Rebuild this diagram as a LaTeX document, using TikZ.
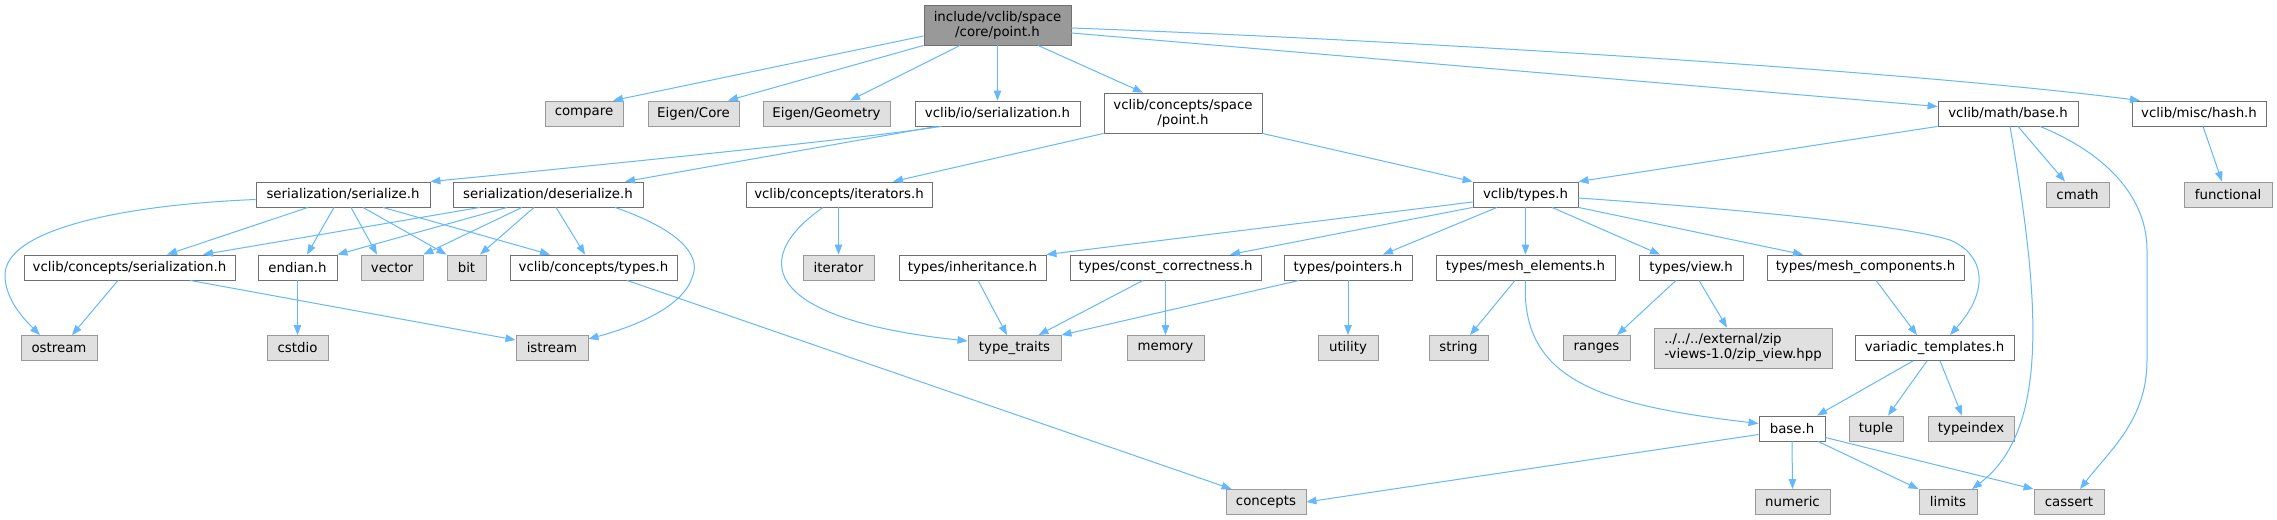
\documentclass[tikz,border=0pt]{standalone}
\usepackage{fontspec}
\setmainfont{DejaVu Sans}
\usetikzlibrary{arrows.meta,calc}
\definecolor{edgeblue}{HTML}{63B8FF}
\definecolor{wborder}{HTML}{707070}
\definecolor{gborder}{HTML}{999999}
\definecolor{gfill}{HTML}{E0E0E0}
\definecolor{rootfill}{HTML}{999999}
\begin{document}
\begin{tikzpicture}[x=0.75pt,y=-0.75pt,
 box/.style={draw, line width=0.65pt, inner sep=0pt, minimum height=18.75pt, font=\fontsize{10}{11.25}\selectfont, align=center, text=black},
 wn/.style={box, draw=wborder, fill=white},
 gn/.style={box, draw=gborder, fill=gfill},
 rn/.style={box, draw=wborder, fill=rootfill, minimum height=30pt},
 tall/.style={minimum height=30pt},
 nw/.style={minimum width=#1*0.75pt},
 ed/.style={draw=edgeblue, line width=0.75pt, -{Triangle[length=7.5pt,width=5.6pt]}}
]
\fill[white] (0,0) rectangle (2277,520);
\useasboundingbox (0,0) rectangle (2277,520);

% row 0
\node[rn, nw=147] (pt) at (997.5,25) {include/vclib/space\\/core/point.h};
% row 1
\node[gn, nw=78] (cmp) at (584,113.5) {compare};
\node[gn, nw=91] (ecore) at (693.5,113.5) {Eigen/Core};
\node[gn, nw=127] (egeo) at (826.5,113.5) {Eigen/Geometry};
\node[wn, nw=165] (ioser) at (997.5,113.5) {vclib/io/serialization.h};
\node[wn, nw=158, tall] (cpt) at (1183,113) {vclib/concepts/space\\/point.h};
\node[wn, nw=140] (mbase) at (2008,113.5) {vclib/math/base.h};
\node[wn, nw=134] (hash) at (2199,113.5) {vclib/misc/hash.h};
% row 2
\node[wn, nw=174] (ser) at (343,194.5) {serialization/serialize.h};
\node[wn, nw=190] (deser) at (548,194.5) {serialization/deserialize.h};
\node[wn, nw=186] (iters) at (839,194.5) {vclib/concepts/iterators.h};
\node[wn, nw=105] (vtypes) at (1525.5,194.5) {vclib/types.h};
\node[gn, nw=63] (cmath) at (2077.5,194.5) {cmath};
\node[gn, nw=88] (func) at (2228,194.5) {functional};
% row 3
\node[wn, nw=211] (cser) at (129.5,267.5) {vclib/concepts/serialization.h};
\node[wn, nw=79] (endian) at (297.5,267.5) {endian.h};
\node[gn, nw=62] (vector) at (392,267.5) {vector};
\node[gn, nw=39] (bit) at (466.5,267.5) {bit};
\node[wn, nw=167] (ctypes) at (593.5,267.5) {vclib/concepts/types.h};
\node[gn, nw=71] (iter) at (838.5,267.5) {iterator};
\node[wn, nw=147] (inh) at (972.5,267.5) {types/inheritance.h};
\node[wn, nw=191] (cc) at (1165.5,267.5) {types/const\_correctness.h};
\node[wn, nw=128] (ptrs) at (1348,267.5) {types/pointers.h};
\node[wn, nw=179] (me) at (1525.5,267.5) {types/mesh\_elements.h};
\node[wn, nw=104] (view) at (1691,267.5) {types/view.h};
\node[wn, nw=197] (mc) at (1865.5,267.5) {types/mesh\_components.h};
% row 4
\node[gn, nw=76] (ostream) at (59,348) {ostream};
\node[gn, nw=61] (cstdio) at (297.5,348) {cstdio};
\node[gn, nw=72] (istream) at (552,348) {istream};
\node[gn, nw=93] (tt) at (1014.5,348) {type\_traits};
\node[gn, nw=77] (memory) at (1165.5,348) {memory};
\node[gn, nw=60] (utility) at (1348,348) {utility};
\node[gn, nw=59] (string) at (1458.5,348) {string};
\node[gn, nw=67] (ranges) at (1596.5,348) {ranges};
\node[gn, nw=178, tall, align=left] (zip) at (1743,348) {../../../external/zip\\-views-1.0/zip\_view.hpp};
\node[wn, nw=159] (vt) at (1934.5,348) {variadic\_templates.h};
% row 5
\node[wn, nw=66] (base) at (1792,428.5) {base.h};
\node[gn, nw=54] (tuple) at (1876,428.5) {tuple};
\node[gn, nw=86] (tidx) at (1971,428.5) {typeindex};
% row 6
\node[gn, nw=80] (conc) at (1266,502) {concepts};
\node[gn, nw=75] (num) at (1792.5,502) {numeric};
\node[gn, nw=58] (limits) at (1948,502) {limits};
\node[gn, nw=70] (cassert) at (2069,502) {cassert};

% edges from point.h
\draw[ed] ($(pt.west)+(0,11)$) -- ($(cmp.north)+(29,0)$);
\draw[ed] (pt.south west) -- ($(ecore.north)+(34.5,0)$);
\draw[ed] ($(pt.south)+(-37.5,0)$) -- ($(egeo.north)+(23.5,0)$);
\draw[ed] (pt.south) -- (ioser.north);
\draw[ed] ($(pt.south)+(40.5,0)$) -- ($(cpt.north)+(-40,0)$);
\draw[ed] ($(pt.east)+(0,8)$) -- ($(mbase.west)+(0,-7)$);
\draw[ed] ($(pt.east)+(0,3)$) .. controls (1400,40) and (1900,70) .. ($(hash.north)+(-59,0)$);

% io/serialization
\draw[ed] ($(ioser.south west)+(27,0)$) .. controls (850,140) and (600,165) .. (ser.north east);
\draw[ed] ($(ioser.south west)+(22,0)$) -- ($(deser.north)+(77,0)$);

% concepts/space/point
\draw[ed] (cpt.south west) -- ($(iters.north)+(54,0)$);
\draw[ed] (cpt.south east) -- (vtypes.north west);

% math/base
\draw[ed] (mbase.south west) -- (vtypes.north east);
\draw[ed] ($(mbase.south)+(10,0)$) -- ($(cmath.north)+(-12.5,0)$);
\draw[ed] ($(mbase.south)+(2,0)$) .. controls (2040,300) and (2050,430) .. ($(limits.north)+(24,0)$);
\draw[ed] ($(mbase.south)+(32,0)$) .. controls (2110,155) and (2147,200) .. (2147,250) -- (2147,360) .. controls (2147,420) and (2110,450) .. ($(cassert.north)+(11,0)$);

% misc/hash
\draw[ed] ($(hash.south)+(4,0)$) -- ($(func.north)+(-6,0)$);

% serialize
\draw[ed] ($(ser.west)+(0,5)$) .. controls (120,205) and (5,230) .. (5,275) .. controls (5,300) and (25,320) .. ($(ostream.north)+(-19,0)$);
\draw[ed] ($(ser.south)+(-35,0)$) -- ($(cser.north)+(37.5,0)$);
\draw[ed] ($(ser.south)+(-9,0)$) -- ($(endian.north)+(9.5,0)$);
\draw[ed] ($(ser.south)+(8,0)$) -- ($(vector.north)+(-15,0)$);
\draw[ed] ($(ser.south)+(20,0)$) -- (bit.north west);
\draw[ed] ($(ser.south)+(40,0)$) -- ($(ctypes.north)+(-43.5,0)$);

% deserialize
\draw[ed] ($(deser.south)+(-68,0)$) -- ($(cser.north)+(73.5,0)$);
\draw[ed] ($(deser.south)+(-41,0)$) -- (endian.north east);
\draw[ed] ($(deser.south)+(-26,0)$) -- (vector.north east);
\draw[ed] ($(deser.south)+(-14,0)$) -- ($(bit.north)+(13.5,0)$);
\draw[ed] ($(deser.south)+(8,0)$) -- ($(ctypes.north)+(-8.5,0)$);
\draw[ed] ($(deser.south)+(67,0)$) .. controls (680,230) and (700,255) .. (693,275) .. controls (685,305) and (640,325) .. ($(istream.east)+(0,-9)$);

% concepts/serialization, endian, concepts/types
\draw[ed] ($(cser.south)+(-11.5,0)$) -- ($(ostream.north)+(13,0)$);
\draw[ed] ($(cser.south)+(60.5,0)$) -- ($(istream.west)+(0,-8)$);
\draw[ed] (endian.south) -- (cstdio.north);
\draw[ed] ($(ctypes.south)+(33.5,0)$) -- ($(conc.north west)+(6,0)$);

% iterators
\draw[ed] ($(iters.south)+(-0.5,0)$) -- (iter.north);
\draw[ed] ($(iters.south)+(-16,0)$) .. controls (745,262) and (770,320) .. ($(tt.west)+(0,-7)$);

% vclib/types
\draw[ed] ($(vtypes.west)+(0,7.5)$) -- (inh.north east);
\draw[ed] (vtypes.south west) -- ($(cc.north)+(64.5,0)$);
\draw[ed] ($(vtypes.south)+(-28.5,0)$) -- ($(ptrs.north)+(35,0)$);
\draw[ed] (vtypes.south) -- (me.north);
\draw[ed] ($(vtypes.south)+(26.5,0)$) -- ($(view.north)+(-31,0)$);
\draw[ed] (vtypes.south east) -- ($(mc.north)+(-62.5,0)$);
\draw[ed] ($(vtypes.east)+(0,3.5)$) .. controls (1750,210) and (1900,225) .. (1950,240) .. controls (1985,255) and (1990,290) .. ($(vt.north)+(15.5,0)$);

% row 3 sources
\draw[ed] ($(inh.south)+(5.5,0)$) -- ($(tt.north)+(-7.5,0)$);
\draw[ed] ($(cc.south)+(-22.5,0)$) -- ($(tt.north)+(24,0)$);
\draw[ed] (cc.south) -- (memory.north);
\draw[ed] ($(ptrs.south)+(-49,0)$) -- (tt.north east);
\draw[ed] (ptrs.south) -- (utility.north);
\draw[ed] ($(me.south)+(-10.5,0)$) -- ($(string.north)+(11.5,0)$);
\draw[ed] (me.south) .. controls (1520,380) and (1600,405) .. ($(base.west)+(0,-5)$);
\draw[ed] ($(view.south)+(-15,0)$) -- ($(ranges.north)+(20.5,0)$);
\draw[ed] ($(view.south)+(8,0)$) -- ($(zip.north)+(-16,0)$);
\draw[ed] ($(mc.south)+(10.5,0)$) -- ($(vt.north)+(-17.5,0)$);

% variadic_templates
\draw[ed] ($(vt.south)+(-21.5,0)$) -- ($(base.north)+(25,0)$);
\draw[ed] ($(vt.south)+(-7.5,0)$) -- ($(tuple.north)+(12,0)$);
\draw[ed] ($(vt.south)+(5.5,0)$) -- ($(tidx.north)+(-9,0)$);

% base.h
\draw[ed] ($(base.west)+(0,6)$) -- (conc.east);
\draw[ed] (base.south) -- (num.north);
\draw[ed] ($(base.south)+(26,0)$) -- (limits.north west);
\draw[ed] ($(base.east)+(0,9)$) -- (cassert.north west);
\end{tikzpicture}
\end{document}
